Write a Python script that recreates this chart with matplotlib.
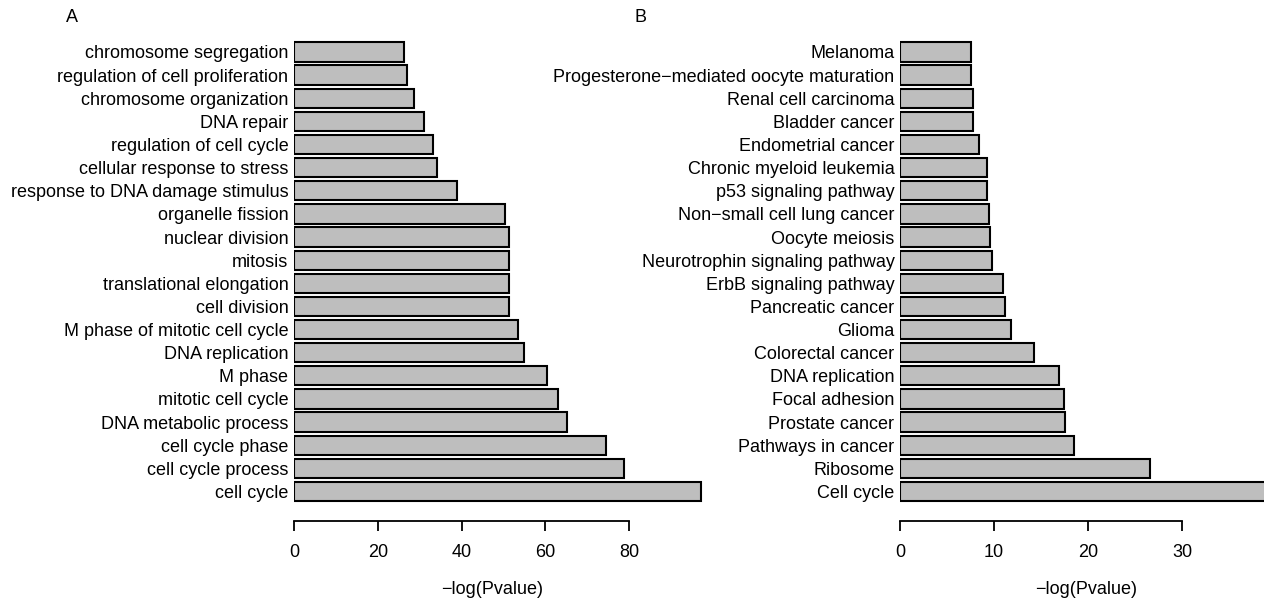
import matplotlib
matplotlib.use("Agg")
import matplotlib.pyplot as plt
import numpy as np

plt.rcParams['font.family'] = ['Liberation Sans', 'DejaVu Sans']

# Panel A: GO terms (bottom to top)
go_terms = ["cell cycle", "cell cycle process", "cell cycle phase", "DNA metabolic process",
            "mitotic cell cycle", "M phase", "DNA replication", "M phase of mitotic cell cycle",
            "cell division", "translational elongation", "mitosis", "nuclear division",
            "organelle fission", "response to DNA damage stimulus", "cellular response to stress",
            "regulation of cell cycle", "DNA repair", "chromosome organization",
            "regulation of cell proliferation", "chromosome segregation"]
go_values = [97.2, 78.9, 74.4, 65.1, 63.0, 60.3, 54.9, 53.4, 51.4, 51.4,
             51.3, 51.3, 50.4, 39.0, 34.1, 33.2, 31.0, 28.6, 27.0, 26.3]
go_ticks = [0, 20, 40, 60, 80]

# Panel B: KEGG pathways (bottom to top)
kegg_terms = ["Cell cycle", "Ribosome", "Pathways in cancer", "Prostate cancer", "Focal adhesion",
              "DNA replication", "Colorectal cancer", "Glioma", "Pancreatic cancer",
              "ErbB signaling pathway", "Neurotrophin signaling pathway", "Oocyte meiosis",
              "Non\u2212small cell lung cancer", "p53 signaling pathway", "Chronic myeloid leukemia",
              "Endometrial cancer", "Bladder cancer", "Renal cell carcinoma",
              "Progesterone\u2212mediated oocyte maturation", "Melanoma"]
kegg_values = [40.0, 26.6, 18.5, 17.5, 17.4, 16.9, 14.2, 11.8, 11.2, 10.9,
               9.77, 9.56, 9.42, 9.28, 9.28, 8.43, 7.79, 7.72, 7.54, 7.51]
kegg_ticks = [0, 10, 20, 30]

xlabel = "\u2212log(Pvalue)"
FS = 13
W, H = 1264, 599

fig = plt.figure(figsize=(W / 100, H / 100), dpi=100)

def panel(left_px, px_per_unit, right_px, terms, values, ticks, label_center_px, letter, letter_x):
    y_bottom_px = 520.5
    y_top_px = 40.4
    xmax = (right_px - left_px) / px_per_unit
    ax = fig.add_axes([left_px / W, (H - y_bottom_px) / H,
                       (right_px - left_px) / W, (y_bottom_px - y_top_px) / H])
    y = np.arange(len(terms))
    ax.barh(y, values, height=1 / 1.2, color="#BEBEBE", edgecolor="black", linewidth=1.5)
    ax.set_xlim(0, xmax)
    ax.set_ylim(-1.254, len(terms) - 0.5)
    ax.set_yticks(y)
    ax.set_yticklabels(terms, fontsize=FS)
    ax.tick_params(axis='y', length=0, pad=4)
    ax.set_xticks(ticks)
    ax.set_xticklabels([str(t) for t in ticks], fontsize=FS)
    ax.tick_params(axis='x', length=7, width=1.3, pad=10, direction='out')
    for s in ['top', 'right', 'left']:
        ax.spines[s].set_visible(False)
    ax.spines['bottom'].set_bounds(ticks[0], ticks[-1])
    ax.spines['bottom'].set_linewidth(1.3)
    ax.patch.set_alpha(0)
    fig.text(label_center_px / W, 1 - 589 / H, xlabel, fontsize=FS, ha='center', va='center')
    fig.text(letter_x / W, 1 - 18 / H, letter, fontsize=FS, ha='center', va='center')
    return ax

panel(294, 4.1875, 712.75, go_terms, go_values, go_ticks, 492, "A", 72)
panel(900, 9.41, 1264, kegg_terms, kegg_values, kegg_ticks, 1086, "B", 640)

fig.savefig("out.png", dpi=100)
